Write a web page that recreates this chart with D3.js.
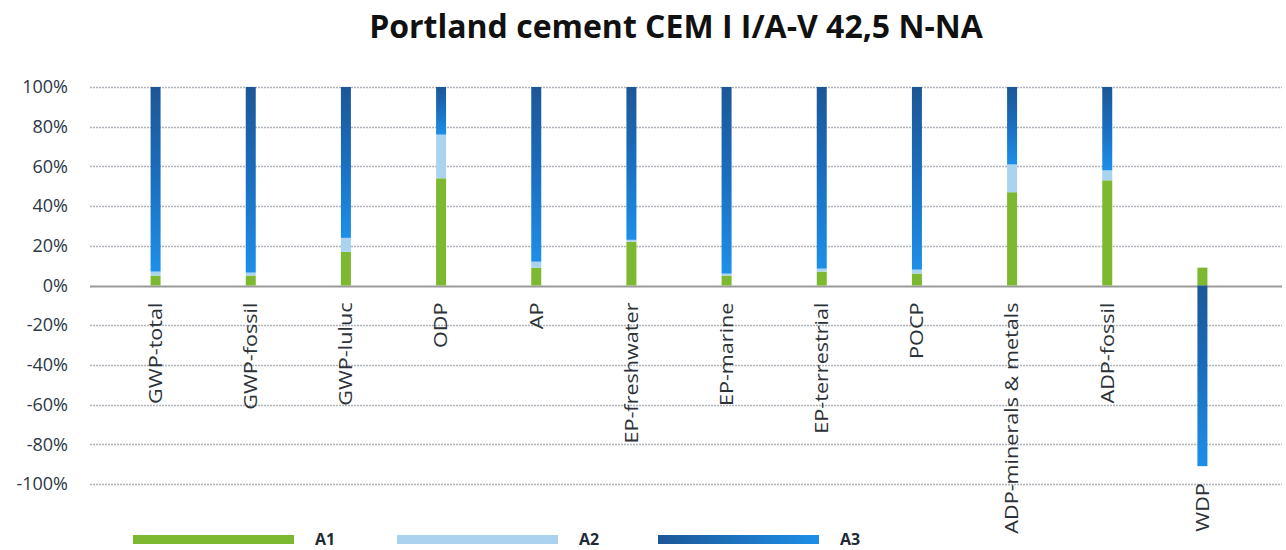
<!DOCTYPE html>
<html>
<head>
<meta charset="utf-8">
<script src="https://cdn.jsdelivr.net/npm/d3@7/dist/d3.min.js"></script>
<style>
html,body{margin:0;padding:0;background:#fff;}
svg{display:block;}
</style>
</head>
<body>
<svg id="chart" width="1286" height="550"></svg>
<script>
const categories = ["GWP-total","GWP-fossil","GWP-luluc","ODP","AP","EP-freshwater","EP-marine","EP-terrestrial","POCP","ADP-minerals & metals","ADP-fossil","WDP"];
const seriesNames = ["A1","A2","A3"];
const A1 = [5, 5, 17, 54, 9, 22, 5, 7, 6, 47, 53, 9];
const A2 = [2, 1.5, 7, 22, 3, 1, 1, 1.5, 2, 14, 5, 0];
const A3 = [93, 93.5, 76, 24, 88, 77, 94, 91.5, 92, 39, 42, -91];
const yTicks = [-100,-80,-60,-40,-20,0,20,40,60,80,100];
const title = "Portland cement CEM I I/A-V 42,5 N-NA";

const svg = d3.select("#chart");
const FONT = "'Open Sans', sans-serif";

const defs = svg.append("defs");
const gV = defs.append("linearGradient").attr("id","a3v").attr("x1",0).attr("y1",0).attr("x2",0).attr("y2",1);
gV.append("stop").attr("offset","0%").attr("stop-color","#1c5797");
gV.append("stop").attr("offset","45%").attr("stop-color","#1a6cbc");
gV.append("stop").attr("offset","100%").attr("stop-color","#1d8fe8");
const gH = defs.append("linearGradient").attr("id","a3h").attr("x1",0).attr("y1",0).attr("x2",1).attr("y2",0);
gH.append("stop").attr("offset","0%").attr("stop-color","#1c5797");
gH.append("stop").attr("offset","100%").attr("stop-color","#1d8fe8");

const colors = {A1:"#7db930", A2:"#a9d3ef", A3:"url(#a3v)"};
const legendColors = {A1:"#7db930", A2:"#a9d3ef", A3:"url(#a3h)"};

const x = d3.scaleBand().domain(categories).range([108,1250]).paddingInner(0.895).paddingOuter(0.4475);
const y = d3.scaleLinear().domain([-100,100]).range([484,87]);

// title
svg.append("text").attr("x",676).attr("y",38).attr("text-anchor","middle")
  .attr("font-family",FONT).attr("font-weight","bold").attr("font-size",32).attr("fill","#111")
  .text(title);

// grid
const gridG = svg.append("g");
gridG.selectAll("line").data(yTicks).enter().append("line")
  .attr("x1",90).attr("x2",1282)
  .attr("y1",d=>Math.round(y(d))+0.5).attr("y2",d=>Math.round(y(d))+0.5)
  .attr("stroke",d=>d===0?"#9a9a9a":"#b0b4ba")
  .attr("stroke-width",d=>d===0?2:1.6)
  .attr("stroke-dasharray",d=>d===0?null:"2,1");

// y axis labels
const yAxis = d3.axisLeft(y).tickValues(yTicks).tickSize(0).tickPadding(0).tickFormat(d=>d+"%");
const yg = svg.append("g").attr("transform","translate(68,0)").call(yAxis);
yg.select(".domain").remove();
yg.selectAll("text").attr("font-family",FONT).attr("font-size",18).attr("fill","#2c3744");

// stacked bars
const rows = categories.map((c,i)=>({cat:c, A1:A1[i], A2:A2[i], A3:A3[i]}));
rows.forEach(r=>{
  let pos=0, neg=0;
  r.segs = seriesNames.map(s=>{
    const v = r[s];
    let y0,y1;
    if(v>=0){y0=pos; y1=pos+v; pos=y1;} else {y0=neg; y1=neg+v; neg=y1;}
    return {s, y0, y1, cat:r.cat};
  });
  r.minVal = neg;
});
const barG = svg.append("g");
rows.forEach(r=>{
  barG.selectAll(null).data(r.segs.filter(d=>d.y1!==d.y0)).enter().append("rect")
    .attr("x",d=>x(d.cat))
    .attr("width",x.bandwidth())
    .attr("y",d=>y(Math.max(d.y0,d.y1)))
    .attr("height",d=>Math.abs(y(d.y0)-y(d.y1)))
    .attr("fill",d=>colors[d.s]);
});

// category labels (placed below the lowest point of each bar)
svg.append("g").selectAll("text").data(rows).enter().append("text")
  .attr("transform",d=>`translate(${x(d.cat)+x.bandwidth()/2},${y(d.minVal)+17}) rotate(-90) scale(1.2,1)`)
  .attr("text-anchor","end").attr("dy","0.35em")
  .attr("font-family",FONT).attr("font-size",18).attr("fill","#2c3238")
  .text(d=>d.cat);

// legend
const legendX = d3.scaleOrdinal().domain(seriesNames).range([133,397,658]);
const lg = svg.append("g");
seriesNames.forEach(s=>{
  lg.append("rect").attr("x",legendX(s)).attr("y",535).attr("width",161).attr("height",9).attr("fill",legendColors[s]);
  lg.append("text").attr("x",legendX(s)+182).attr("y",545)
    .attr("font-family",FONT).attr("font-weight","bold").attr("font-size",16).attr("fill","#1f2a36").text(s);
});
</script>
</body>
</html>
